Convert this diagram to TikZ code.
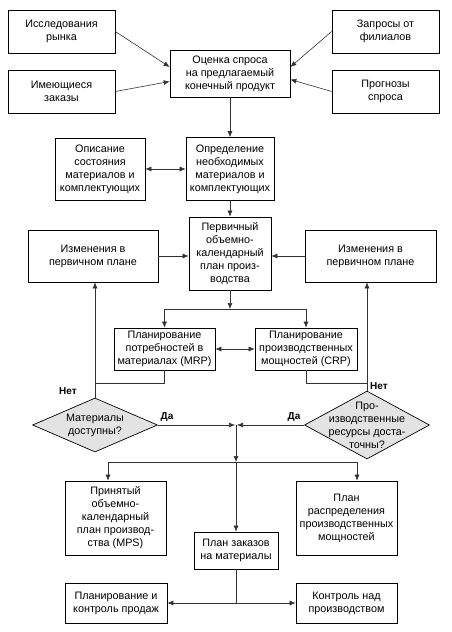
\documentclass[tikz,border=0pt]{standalone}
\usepackage{fontspec}
\setmainfont{Liberation Sans}
\usepackage{tikz}
\usetikzlibrary{positioning, shapes.geometric, arrows.meta}
\tikzset{
    block/.style={
        draw, line width = 0.7pt,
        align = center,
        inner sep = 0pt,
        font = \fontsize{10.8}{13}\selectfont
    },
    decision/.style={
        draw, diamond, line width = 0.7pt,
        fill = black!11, inner sep = 0pt
    },
    answer/.style = {font = \fontsize{10}{12}\selectfont\bfseries},
    line/.style = {line width = 0.6pt, draw = black!80, -{Latex[length=6pt,width=5pt]}},
    dline/.style = {line width = 0.6pt, draw = black!80, {Latex[length=6pt,width=5pt]}-{Latex[length=6pt,width=5pt]}},
    link/.style = {line width = 0.6pt, draw = black!80}
}

\begin{document}
\begin{tikzpicture}[x=1pt, y=-1pt]

    \useasboundingbox (0,0) rectangle (452,632);

    % Demand sources
    \node[block, minimum width = 107pt, minimum height = 43pt] (market) at (61.5,31.5) {Исследования\\рынка};
    \node[block, minimum width = 107pt, minimum height = 43pt] (orders) at (61.5,91.5) {Имеющиеся\\заказы};
    \node[block, minimum width = 107pt, minimum height = 43pt] (branch) at (385.5,31.5) {Запросы от\\филиалов};
    \node[block, minimum width = 107pt, minimum height = 43pt] (forecast) at (385.5,91.5) {Прогнозы\\спроса};
    \node[block, minimum width = 120pt, minimum height = 47pt] (demand) at (230,73.5) {Оценка спроса\\на предлагаемый\\конечный продукт};

    % Materials
    \node[block, minimum width = 90pt, minimum height = 62pt] (status) at (100,169) {Описание\\состояния\\материалов и\\комплектующих};
    \node[block, minimum width = 88pt, minimum height = 63pt] (needs) at (230,169) {Определение\\необходимых\\материалов и\\комплектующих};

    % Primary plan
    \node[block, minimum width = 82pt, minimum height = 73pt] (primary) at (230,253.5) {Первичный\\объемно-\\календарный\\план произ-\\водства};
    \node[block, minimum width = 130pt, minimum height = 52pt] (changeL) at (93,256) {Изменения в\\первичном плане};
    \node[block, minimum width = 131pt, minimum height = 52pt] (changeR) at (370.5,256) {Изменения в\\первичном плане};

    % MRP / CRP
    \node[block, minimum width = 101pt, minimum height = 42pt] (mrp) at (164.5,349) {Планирование\\потребностей в\\материалах (MRP)};
    \node[block, minimum width = 102pt, minimum height = 42pt] (crp) at (306,349) {Планирование\\производственных\\мощностей (CRP)};

    % Decisions
    \node[decision, minimum width = 125pt, minimum height = 54pt] (checkL) at (95,425) {};
    \node[block, draw = none] at (checkL.center) {Материалы\\доступны?};
    \node[decision, minimum width = 125pt, minimum height = 68pt] (checkR) at (367,425) {};
    \node[block, draw = none] at (checkR.center) {Про-\\изводственные\\ресурсы доста-\\точны?};

    % Results
    \node[block, minimum width = 101pt, minimum height = 74pt] (mps) at (115.5,518) {Принятый\\объемно-\\календарный\\план производ-\\ства (MPS)};
    \node[block, minimum width = 101pt, minimum height = 74pt] (alloc) at (346.5,518) {План\\распределения\\производственных\\мощностей};
    \node[block, minimum width = 84pt, minimum height = 37pt] (purchase) at (236,550.5) {План заказов\\на материалы};
    \node[block, minimum width = 102pt, minimum height = 40pt] (sales) at (116,603) {Планирование и\\контроль продаж};
    \node[block, minimum width = 101pt, minimum height = 40pt] (control) at (346.5,603) {Контроль над\\производством};

    % Answers
    \node[answer] (noL) at (68,391) {Нет};
    \node[answer] (noR) at (379,386) {Нет};
    \node[answer] (yesL) at (167,417) {Да};
    \node[answer] (yesR) at (294,417) {Да};

    % Junctions
    \coordinate (fork1) at (230,309);
    \coordinate (joinL) at (95,383);
    \coordinate (joinR) at (367,383);
    \coordinate (meet) at (236,425);
    \coordinate (fork2) at (236,462);
    \coordinate (fork3) at (236,603);

    % Lines
    \draw[line] (market.east) -- ([yshift=6.5pt]demand.west);
    \draw[line] (orders.east) -- ([yshift=-8pt]demand.west);
    \draw[line] (branch.west) -- ([yshift=6.5pt]demand.east);
    \draw[line] (forecast.west) -- ([yshift=-6pt]demand.east);
    \draw[line] (demand.south) -- (needs.north);
    \draw[dline] (status.east) -- (needs.west);
    \draw[line] (needs.south) -- (primary.north);
    \draw[line] (changeL.east) -- (changeL.east -| primary.west);
    \draw[line] (changeR.west) -- (changeR.west -| primary.east);
    \draw[line] (primary.south) -- (fork1);
    \draw[line] (fork1) -| (mrp.north);
    \draw[line] (fork1) -| (crp.north);
    \draw[dline] (mrp.east) -- (crp.west);
    \draw[link] (mrp.south) |- (joinL);
    \draw[link] (crp.south) |- (joinR);
    \draw[line] (checkL.north) -- (checkL.north |- changeL.south);
    \draw[line] (checkR.north) -- (checkR.north |- changeR.south);
    \draw[line] (checkL.east) -- ([xshift=-1pt]meet);
    \draw[line] (checkR.west) -- ([xshift=1pt]meet);
    \draw[line] (meet) -- (fork2);
    \draw[line] (fork2) -| ([xshift=-7.5pt]mps.north);
    \draw[line] (fork2) -| ([xshift=10.5pt]alloc.north);
    \draw[line] (fork2) -- (purchase.north);
    \draw[link] (purchase.south) -- (fork3);
    \draw[line] (fork3) -- (sales.east);
    \draw[line] (fork3) -- (control.west);

\end{tikzpicture}
\end{document}
